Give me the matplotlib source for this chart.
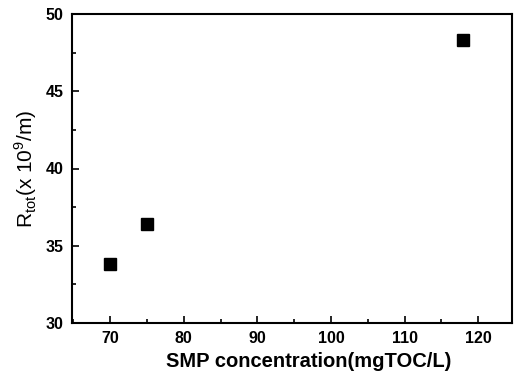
import matplotlib
matplotlib.use("Agg")
import matplotlib.pyplot as plt
from matplotlib.ticker import MultipleLocator

plt.rcParams['font.family'] = ['Liberation Sans', 'DejaVu Sans']
plt.rcParams['mathtext.fontset'] = 'custom'
plt.rcParams['mathtext.rm'] = 'Liberation Sans'

smp_conc = [70, 75, 118]
resistance = [33.8, 36.4, 48.3]

x_ticks = [70, 80, 90, 100, 110, 120]
y_ticks = [30, 35, 40, 45, 50]

fig = plt.figure(figsize=(5.15, 3.81), dpi=100)
ax = fig.add_axes([72 / 515, 1 - 323 / 381, (512 - 72) / 515, (323 - 14) / 381])

ax.plot(smp_conc, resistance, linestyle='none', marker='s', markersize=8.5,
        color='black')

ax.set_xlim(64.8, 124.6)
ax.set_ylim(30, 50)
ax.set_xticks(x_ticks)
ax.set_yticks(y_ticks)
ax.xaxis.set_minor_locator(MultipleLocator(5))
ax.yaxis.set_minor_locator(MultipleLocator(2.5))
ax.tick_params(which='both', direction='in', width=1.2)
ax.tick_params(which='major', length=5, labelsize=11.5, pad=6)
ax.tick_params(which='minor', length=3)
for lbl in ax.get_xticklabels() + ax.get_yticklabels():
    lbl.set_fontweight('bold')
for sp in ax.spines.values():
    sp.set_linewidth(1.5)

ax.set_xlabel('SMP concentration(mgTOC/L)', fontsize=14.5, fontweight='bold', labelpad=5)
ax.xaxis.set_label_coords(0.539, -0.095)
ax.set_ylabel(r'R$_{\mathrm{tot}}$(x 10$^{\mathrm{9}}$/m)', fontsize=15, labelpad=5)

fig.savefig('out.png', dpi=100)
